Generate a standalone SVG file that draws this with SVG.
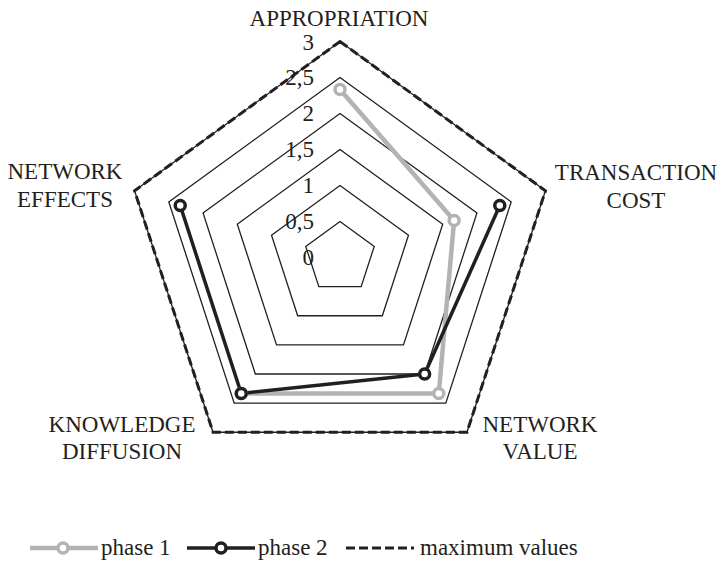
<svg xmlns="http://www.w3.org/2000/svg" width="723" height="561" viewBox="0 0 723 561">
<style>
text{font-family:"Liberation Serif","Times New Roman",serif;font-size:23px;fill:#231f20}
.lbl{text-anchor:middle}
.val{text-anchor:end}
.grid{fill:none;stroke:#231f20;stroke-width:1.3}
.max{fill:none;stroke:#231f20;stroke-width:3;stroke-dasharray:9,4}
.p1{fill:none;stroke:#b3b3b3;stroke-width:4.5;stroke-linejoin:round}
.p2{fill:none;stroke:#231f20;stroke-width:3.5;stroke-linejoin:round}
.m1{fill:#fff;stroke:#b3b3b3;stroke-width:3.5}
.m2{fill:#fff;stroke:#231f20;stroke-width:3.5}
</style>
<rect width="723" height="561" fill="#fff"/>
<g id="grid">
<polygon class="grid" points="340,221.5 374.24,246.38 361.16,286.62 318.84,286.62 305.76,246.38"/>
<polygon class="grid" points="340,185.5 408.48,235.25 382.32,315.75 297.68,315.75 271.52,235.25"/>
<polygon class="grid" points="340,149.5 442.71,224.13 403.48,344.87 276.52,344.87 237.29,224.13"/>
<polygon class="grid" points="340,113.5 476.95,213 424.64,374 255.36,374 203.05,213"/>
<polygon class="grid" points="340,77.5 511.19,201.88 445.8,403.12 234.2,403.12 168.81,201.88"/>
<polygon class="grid" points="340,41.5 545.43,190.75 466.96,432.25 213.04,432.25 134.57,190.75"/>
</g>
<g id="scale">
<text class="val" x="314" y="265">0</text>
<text class="val" x="314" y="229">0,5</text>
<text class="val" x="314" y="193">1</text>
<text class="val" x="314" y="157">1,5</text>
<text class="val" x="314" y="121">2</text>
<text class="val" x="314" y="85">2,5</text>
<text class="val" x="314" y="49.5">3</text>
</g>
<g id="connectors">
<polygon id="max-values" class="max" points="340,41.5 545.43,190.75 466.96,432.25 213.04,432.25 134.57,190.75"/>
<polyline id="phase1" class="p1" points="340,89.5 454.13,220.42 438.75,393.42 241.25,393.42"/>
<polyline id="phase2" class="p2" points="180.22,205.58 241.25,393.42 424.64,374 499.78,205.58"/>
</g>
<g id="markers">
<circle class="m1" cx="340" cy="89.5" r="5"/>
<circle class="m1" cx="454.13" cy="220.42" r="5"/>
<circle class="m1" cx="438.75" cy="393.42" r="5"/>
<circle class="m1" cx="241.25" cy="393.42" r="5"/>
<circle class="m2" cx="180.22" cy="205.58" r="5"/>
<circle class="m2" cx="241.25" cy="393.42" r="5"/>
<circle class="m2" cx="424.64" cy="374" r="5"/>
<circle class="m2" cx="499.78" cy="205.58" r="5"/>
</g>
<g id="appropriation"><text class="lbl" x="339" y="26">APPROPRIATION</text></g>
<g id="transaction-cost"><text class="lbl" x="636" y="180">TRANSACTION</text><text class="lbl" x="636" y="208">COST</text></g>
<g id="network-value"><text class="lbl" x="540" y="432">NETWORK</text><text class="lbl" x="540" y="459">VALUE</text></g>
<g id="knowledge-diffusion"><text class="lbl" x="122" y="432">KNOWLEDGE</text><text class="lbl" x="122" y="459">DIFFUSION</text></g>
<g id="network-effects"><text class="lbl" x="65" y="179">NETWORK</text><text class="lbl" x="65" y="207">EFFECTS</text></g>
<g id="legend">
<line x1="30" y1="548" x2="98" y2="548" class="p1"/>
<circle class="m1" cx="63" cy="548" r="5"/>
<text x="101" y="555">phase 1</text>
<line x1="187" y1="548" x2="255" y2="548" class="p2"/>
<circle class="m2" cx="221" cy="548" r="5"/>
<text x="258" y="555">phase 2</text>
<line x1="346" y1="548" x2="414" y2="548" class="max"/>
<text x="420" y="555">maximum values</text>
</g>
</svg>
